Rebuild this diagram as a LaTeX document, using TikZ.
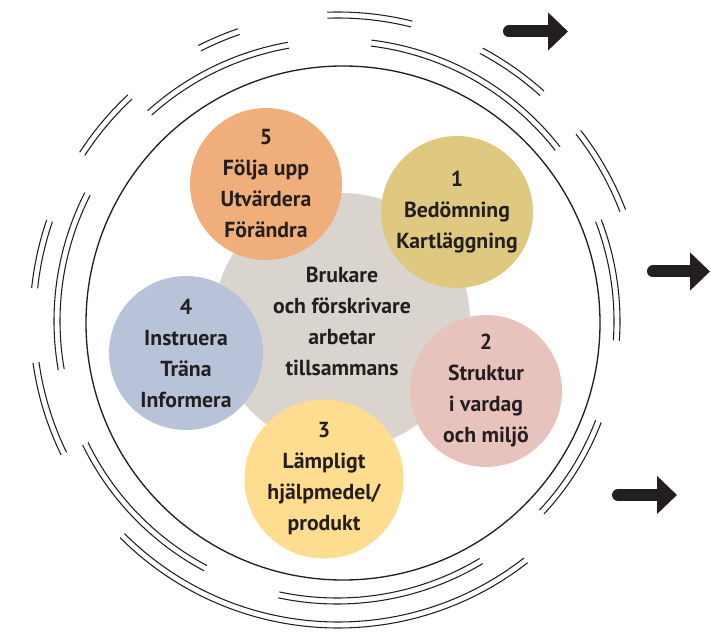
\documentclass[tikz,border=0pt]{standalone}
\usepackage{fontspec}
\setmainfont{PT Sans}
\usepackage{xcolor}
\usepackage{tikz}
\usetikzlibrary{arrows.meta}
\definecolor{stepone}{HTML}{DFC880}
\definecolor{steptwo}{HTML}{E8C3BE}
\definecolor{stepthree}{HTML}{FEDC90}
\definecolor{stepfour}{HTML}{B8C2D9}
\definecolor{stepfive}{HTML}{F0AE7A}
\definecolor{usergray}{HTML}{DAD4CE}
\definecolor{textdark}{HTML}{231F20}

\tikzset{
  steptext/.style={font=\bfseries\fontsize{16.3}{23.25}\selectfont, text=textdark, align=center},
  stepdisc/.style={circle, minimum size=114pt, inner sep=0pt, steptext},
  ringline/.style={draw=textdark, line width=0.8pt},
  bigarrow/.style={draw=textdark, line width=9pt, line cap=round, -{Triangle[length=15pt, width=27.75pt]}}
}

\begin{document}
\begin{tikzpicture}[x=0.75pt,y=0.75pt]
      \useasboundingbox (0,0) rectangle (711,640);
      \coordinate (innerc) at (343,317);
      \coordinate (midc) at (337,319);
      \coordinate (outc) at (338,320);
      \draw[draw=textdark, line width=1pt] (innerc) circle (257);
      \foreach \a/\b in {100/132,38/83,-4/21,-43/-21,258/301,206/242,153/190}
        \foreach \r in {277,283}
          \draw[ringline] ([shift={(\a:\r)}]midc) arc[start angle=\a, end angle=\b, radius=\r];
      \foreach \a/\b in {76/92,109/117,133/147,161/174,188/206,225/308,21/38,48/62}
        \foreach \r in {302,308}
          \draw[ringline] ([shift={(\a:\r)}]outc) arc[start angle=\a, end angle=\b, radius=\r];
      \node[circle, fill=usergray, minimum size=192pt, inner sep=0pt, steptext] (users) at (342,319) {Brukare\\och förskrivare\\arbetar\\tillsammans};
      \node[stepdisc, fill=stepone] (one) at (457,428) {1\\Bedömning\\Kartläggning};
      \node[stepdisc, fill=steptwo] (two) at (486,249) {2\\Struktur\\i vardag\\och miljö};
      \node[stepdisc, fill=stepthree] (three) at (324,161) {3\\Lämpligt\\hjälpmedel/\\produkt};
      \node[stepdisc, fill=stepfour, minimum size=115.5pt] (four) at (186,287) {4\\Instruera\\Träna\\Informera};
      \node[stepdisc, fill=stepfive] (five) at (266,456) {5\\Följa upp\\Utvärdera\\Förändra};
      \coordinate (toparrA) at (509,608.5);
      \coordinate (toparrB) at (568,608.5);
      \coordinate (midarrA) at (653,368.5);
      \coordinate (midarrB) at (710,368.5);
      \coordinate (lowarrA) at (618,145);
      \coordinate (lowarrB) at (677,145);
      \draw[bigarrow] (toparrA) -- (toparrB);
      \draw[bigarrow] (midarrA) -- (midarrB);
      \draw[bigarrow] (lowarrA) -- (lowarrB);
    \end{tikzpicture}
\end{document}
